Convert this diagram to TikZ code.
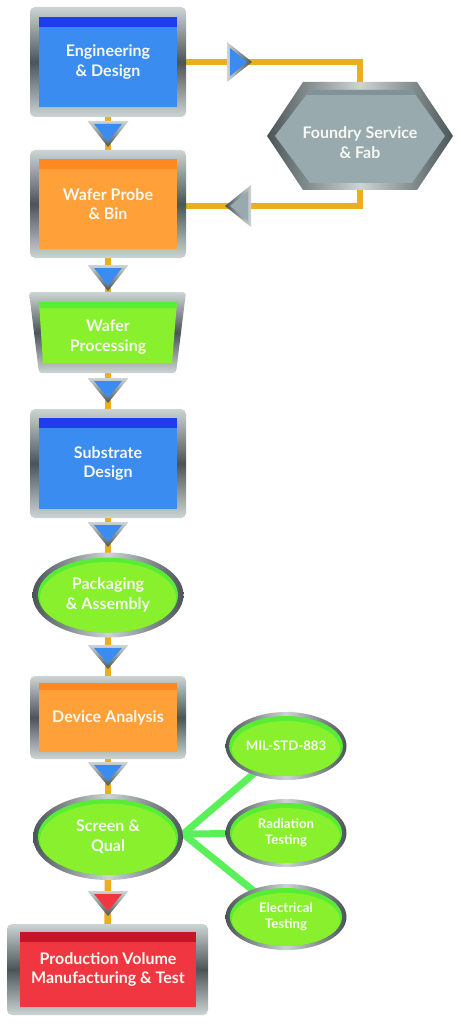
\documentclass[tikz,border=0pt]{standalone}
\usepackage{fontspec}
\setmainfont{Lato}
\usetikzlibrary{shapes.geometric,backgrounds}
\definecolor{frL}{HTML}{CDD4D4}
\definecolor{frD}{HTML}{4B5558}
\definecolor{cBlue}{HTML}{3A8CF0}
\definecolor{cBlueD}{HTML}{1E3CF0}
\definecolor{cOrange}{HTML}{FFA038}
\definecolor{cOrangeD}{HTML}{FF8820}
\definecolor{cGreen}{HTML}{88F02D}
\definecolor{cGreenD}{HTML}{58EC34}
\definecolor{cRed}{HTML}{F03741}
\definecolor{cRedD}{HTML}{C41428}
\definecolor{hexIn}{HTML}{98AAAE}
\definecolor{hexBand}{HTML}{7F9398}
\definecolor{oLine}{HTML}{EBAF1E}
\definecolor{gLine}{HTML}{5AF05A}
\definecolor{txt}{HTML}{F8F8F2}
\newcommand\mydtri[4]{%
  \path[top color=frL, bottom color=frD] ({#1-20.5},#2) -- ({#1+20.5},#2) -- (#1,#3) -- cycle;
  \fill[#4] ({#1-14},{#2+3}) -- ({#1+14},{#2+3}) -- (#1,{#3-5}) -- cycle;}
\begin{document}
\begin{tikzpicture}[x=1pt,y=-1pt,
  frame/.style={rounded corners=5pt, top color=frL, bottom color=frL, middle color=frD, inner sep=0pt, draw=none},
  inbox/.style n args={3}{fill=#1, inner sep=0pt, text=txt, align=center,
     font=\bfseries\fontsize{16}{19.5}\selectfont,
     path picture={\fill[#2] (path picture bounding box.north west) rectangle ([yshift=-#3]path picture bounding box.north east);}},
  eframe/.style={ellipse, inner sep=0pt, left color=frD, right color=frD, middle color=frL},
  ein/.style n args={4}{ellipse, inner sep=0pt, fill=cGreenD, text=txt, align=center,
     path picture={\fill[cGreen] ([yshift=-3pt]path picture bounding box.center) ellipse (#1 and #2);},
     minimum width=#3, minimum height=#4},
  lbl/.style={text=txt, align=center, font=\bfseries\fontsize{16}{19.5}\selectfont, inner sep=0pt},
  oconn/.style={draw=oLine, line width=6.5pt},
  gconn/.style={draw=gLine, line width=7pt}]
\useasboundingbox (0,0) rectangle (460,1024);

% ---------- main column boxes ----------
\node[frame, minimum width=156pt, minimum height=110pt] (engF) at (108,62) {};
\node[inbox={cBlue}{cBlueD}{10pt}, minimum width=138pt, minimum height=90pt] (eng) at (108,62) {Engineering\\\& Design};

\node[frame, minimum width=156pt, minimum height=108pt] (wpF) at (108,204) {};
\node[inbox={cOrange}{cOrangeD}{10pt}, minimum width=138pt, minimum height=90pt] (wp) at (108,204) {\raisebox{-2pt}{Wafer Probe}\\\raisebox{-2pt}{\& Bin}};

% trapezoid
\path[rounded corners=3pt, top color=frL, bottom color=frL, middle color=frD] (29,292) -- (186,292) -- (176,373) -- (39,373) -- cycle;
\fill[cGreen] (39,302) -- (177,302) -- (172,363) -- (43,363) -- cycle;
\fill[cGreenD] (39,302) -- (177,302) -- (176.3,308) -- (39.7,308) -- cycle;
\node[lbl] (wproc) at (108,337) {Wafer\\Processing};

\node[frame, minimum width=156pt, minimum height=109pt] (subF) at (108,463.5) {};
\node[inbox={cBlue}{cBlueD}{10pt}, minimum width=138pt, minimum height=91pt] (sub) at (108,463.5) {Substrate\\Design};

\node[eframe, minimum width=151pt, minimum height=85pt] (packF) at (108,595) {};
\node[ein={68pt}{36pt}{140pt}{75pt}, font=\bfseries\fontsize{16}{19.5}\selectfont] (pack) at (108,595) {Packaging\\\& Assembly};

\node[frame, minimum width=156pt, minimum height=83pt] (devF) at (108,717.5) {};
\node[inbox={cOrange}{cOrangeD}{7pt}, minimum width=138pt, minimum height=69pt] (dev) at (108,717.5) {\raisebox{-3pt}{Device Analysis}};

\node[eframe, minimum width=150pt, minimum height=86pt] (scrF) at (108,837) {};
\node[ein={68pt}{36.5pt}{140pt}{76pt}, font=\bfseries\fontsize{16}{19.5}\selectfont] (scr) at (108,837) {Screen \&\\Qual};

\node[frame, minimum width=201pt, minimum height=91pt] (prodF) at (107.5,969.5) {};
\node[inbox={cRed}{cRedD}{10pt}, minimum width=176pt, minimum height=75pt] (prod) at (108,969.5) {Production Volume\\Manufacturing \& Test};

% ---------- hexagon ----------
\path[left color=frD, right color=frD, middle color=frL] (267,136) -- (303,82) -- (417,82) -- (453,136) -- (417,190) -- (303,190) -- cycle;
\fill[hexIn] (275,136) -- (310,90) -- (412,90) -- (445,136) -- (412,183) -- (310,183) -- cycle;
\fill[hexBand] (310,90) -- (412,90) -- (415.7,95) -- (306.3,95) -- cycle;
\node[lbl] (hex) at (360,142.5) {Foundry Service\\\& Fab};

% ---------- small ellipses ----------
\node[eframe, minimum width=121pt, minimum height=68pt] (milF) at (286,746) {};
\node[ein={54pt}{28pt}{112pt}{60pt}, font=\bfseries\fontsize{13.2}{15.5}\selectfont] (mil) at (286,746) {MIL-STD-883};
\node[eframe, minimum width=121pt, minimum height=68pt] (radF) at (286,833) {};
\node[ein={54pt}{28pt}{112pt}{60pt}, font=\bfseries\fontsize{13.2}{15.5}\selectfont] (rad) at (286,833) {Radiation\\Testing};
\node[eframe, minimum width=121pt, minimum height=66pt] (eleF) at (286,917) {};
\node[ein={54pt}{27pt}{112pt}{58pt}, font=\bfseries\fontsize{13.2}{15.5}\selectfont] (ele) at (286,917) {Electrical\\Testing};

% ---------- arrow triangles ----------
\mydtri{108}{121}{147}{cBlue}
\mydtri{108}{265}{291}{cBlue}
\mydtri{108}{378}{403}{cBlue}
\mydtri{108}{522}{547}{cBlue}
\mydtri{108}{645}{669}{cBlue}
\mydtri{108}{762}{786}{cBlue}
\mydtri{108}{891}{916}{cRed}
% right-pointing
\path[left color=frL, right color=frD] (227,42) -- (252,62) -- (227,82) -- cycle;
\fill[cBlue] (230,48) -- (247,62) -- (230,76) -- cycle;
% left-pointing
\path[left color=frD, right color=frL] (225,206) -- (251,185) -- (251,227) -- cycle;
\fill[hexIn] (230,206) -- (248,191) -- (248,221) -- cycle;

% ---------- connectors ----------
\begin{scope}[on background layer]
\fill[white] (0,0) rectangle (460,1024);
\draw[oconn] (engF.center) -- (wpF.center);
\draw[oconn] (wpF.center) -- (wproc.center);
\draw[oconn] (wproc.center) -- (subF.center);
\draw[oconn] (subF.center) -- (packF.center);
\draw[oconn] (packF.center) -- (devF.center);
\draw[oconn] (devF.center) -- (scrF.center);
\draw[oconn] (scrF.center) -- (prodF.center);
\draw[oconn] (engF.east) -- (engF.east -| hex.center) -- (hex.center);
\draw[oconn] (hex.center) |- ([yshift=-2pt]wpF.east);
\draw[gconn] ([yshift=3pt]scrF.east) -- (mil.center);
\draw[gconn] ([yshift=3pt]scrF.east) -- (rad.center);
\draw[gconn] ([yshift=3pt]scrF.east) -- (ele.center);
\end{scope}
\end{tikzpicture}
\end{document}
